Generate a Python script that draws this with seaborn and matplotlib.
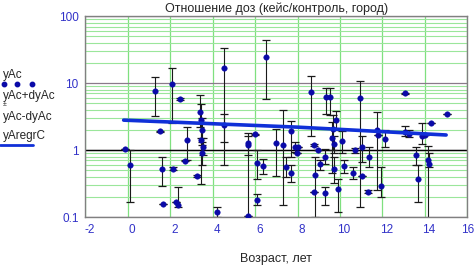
import numpy as np
import matplotlib
matplotlib.use('Agg')
import matplotlib.pyplot as plt
import matplotlib.transforms as mtransforms
from matplotlib.lines import Line2D
import seaborn as sns
import pandas as pd

# age (years), dose ratio and its lower / upper bounds
age = [-0.15, 0.08, 1.29, 1.53, 1.60, 1.66, 2.10, 2.13, 2.35, 2.28, 2.47, 2.69, 2.80, 3.24,
       3.40, 3.45, 3.50, 3.43, 3.52, 3.47, 4.20, 4.52, 4.52, 5.67, 5.64, 5.67, 5.98, 6.09,
       6.35, 6.09, 6.51, 7.00, 7.32, 7.45, 7.70, 7.70, 7.89, 7.97, 8.00, 8.62, 8.77, 8.83,
       8.78, 8.94, 9.05, 9.30, 9.30, 9.36, 9.53, 9.82, 9.68, 9.62, 9.72, 9.72, 9.88, 10.07,
       10.17, 10.61, 10.69, 10.96, 11.05, 11.05, 11.36, 11.30, 11.74, 11.78, 11.94, 12.14,
       13.04, 13.08, 13.25, 13.60, 13.66, 13.88, 14.00, 14.16, 14.20, 14.27, 15.02]
ratio = [1.03, 0.60, 7.7, 1.90, 0.53, 0.155, 9.7, 0.53, 0.15, 0.17, 5.8, 0.69, 1.40, 0.41,
         3.7, 2.8, 2.0, 1.4, 1.12, 0.89, 0.12, 16.6, 2.4, 1.26, 1.18, 0.102, 1.73, 0.65,
         0.58, 0.18, 24.7, 1.28, 1.19, 0.56, 1.9, 0.45, 1.12, 0.91, 1.10, 7.3, 1.19, 0.42,
         0.24, 1.02, 0.61, 0.79, 0.225, 6.25, 6.1, 2.8, 2.1, 1.5, 1.25, 0.53, 0.26, 1.36,
         0.58, 0.46, 1.0, 5.9, 1.12, 0.41, 0.79, 0.24, 2.0, 1.68, 0.29, 1.45,
         7.0, 1.85, 1.75, 0.84, 0.37, 1.62, 1.66, 0.71, 0.62, 2.5, 3.4]
ratio_lo = [1.03, 0.17, 3.2, 1.85, 0.29, 0.155, 2.5, 0.51, 0.14, 0.17, 5.6, 0.68, 0.71, 0.40,
            2.2, 1.5, 1.2, 0.31, 0.85, 0.6, 0.10, 0.6, 1.33, 0.1, 0.85, 0.102, 1.70, 0.37,
            0.44, 0.15, 5.7, 0.41, 0.15, 0.40, 0.79, 0.33, 0.95, 0.91, 1.10, 1.6, 1.15, 0.1,
            0.24, 1.02, 0.50, 0.62, 0.15, 3.5, 3.3, 2.0, 1.0, 0.45, 0.9, 0.32, 0.12, 0.9,
            0.45, 0.37, 0.92, 0.14, 0.67, 0.41, 0.55, 0.23, 0.25, 1.68, 0.20, 1.1,
            6.9, 1.6, 1.55, 0.6, 0.17, 1.25, 1.66, 0.07, 0.55, 2.5, 3.4]
ratio_hi = [1.03, 1.0, 12.4, 1.95, 0.78, 0.155, 16.6, 0.55, 0.28, 0.17, 6.0, 0.71, 2.2, 0.43,
            6.6, 4.8, 3.0, 2.6, 1.5, 1.3, 0.14, 33.0, 3.4, 1.8, 1.6, 0.102, 1.76, 1.0,
            0.73, 0.22, 43.8, 2.1, 4.0, 0.79, 2.7, 0.6, 1.3, 0.91, 1.10, 12.8, 1.23, 0.79,
            0.24, 1.02, 0.70, 1.05, 0.28, 8.6, 8.4, 3.8, 3.3, 2.6, 1.6, 0.8, 0.37, 1.9,
            0.72, 0.55, 1.08, 10.8, 1.6, 0.41, 1.12, 0.25, 3.7, 1.68, 0.55, 1.98,
            7.1, 2.3, 2.0, 1.12, 0.6, 2.5, 1.66, 1.15, 0.9, 2.5, 3.4]

# regression curve yAregrC
regr_age = [-0.2, 8.0, 15.0]
regr_val = [2.8, 2.2, 1.68]

df = pd.DataFrame({'age': age, 'ratio': ratio, 'lo': ratio_lo, 'hi': ratio_hi})
regr = pd.DataFrame({'age': regr_age, 'val': regr_val})

sns.set_style('white')
plt.rcParams['font.family'] = ['Liberation Sans', 'DejaVu Sans']
plt.rcParams['axes.unicode_minus'] = False

blue_txt = '#3232c8'
fig = plt.figure(figsize=(4.76, 2.65), dpi=100)
ax = fig.add_axes([0.1796, 0.181, 0.8022, 0.758])

ax.set_yscale('log')
ax.set_xlim(-2, 16)
ax.set_ylim(0.1, 100)
ax.set_xticks(np.arange(-2, 17, 2))
ax.set_yticks([0.1, 1, 10, 100])
ax.set_yticklabels(['0.1', '1', '10', '100'])

ax.grid(which='minor', axis='y', color='#9be69b', lw=0.8)
ax.grid(which='major', axis='y', color='#8a7a8a', lw=0.9)
ax.grid(which='major', axis='x', color='#7fe07f', lw=0.9)
ax.axhline(1, color='black', lw=1.0, zorder=1)
ax.set_axisbelow(True)

ax.errorbar(df['age'], df['ratio'], yerr=[df['ratio'] - df['lo'], df['hi'] - df['ratio']],
            fmt='none', ecolor='#1a1a1a', elinewidth=0.8, capsize=3, capthick=0.9, zorder=2)
sns.scatterplot(data=df, x='age', y='ratio', ax=ax, color='#0a0aa8', s=16,
                edgecolor='#0a0aa8', linewidth=0.3, zorder=3, legend=False)
sns.lineplot(data=regr, x='age', y='val', ax=ax, color='#1030d8', lw=2.6, zorder=4)

for s in ax.spines.values():
    s.set_color('#808080')
    s.set_linewidth(1.0)
ax.minorticks_on()
ax.xaxis.set_minor_locator(matplotlib.ticker.NullLocator())
ax.yaxis.set_minor_formatter(matplotlib.ticker.NullFormatter())
ax.tick_params(which='both', length=0, labelsize=8.5, labelcolor=blue_txt, pad=5)

# Mathcad puts x labels a little to the right of the grid line (last one kept inside)
shift = mtransforms.ScaledTranslation(4 / 100, 0, fig.dpi_scale_trans)
xlabs = ax.get_xticklabels()
for lab in xlabs[:-1]:
    lab.set_transform(lab.get_transform() + shift)

ax.set_title('Отношение доз (кейс/контроль, город)', fontsize=9, pad=3)
ax.set_xlabel('Возраст, лет', fontsize=9, labelpad=12)
ax.set_ylabel('')

# legend on the left, Mathcad style (label above sample)
fs = 8.5
fig.text(0.006, 0.705, 'yAc', fontsize=fs, va='baseline')
for xx in [0.008, 0.035, 0.067]:
    fig.add_artist(Line2D([xx], [0.683], marker='o', ms=3.2, color='#0a0aa8', lw=0))
fig.text(0.006, 0.625, 'yAc+dyAc', fontsize=fs, va='baseline')
fig.text(0.006, 0.6, '±', fontsize=5, va='baseline')
fig.text(0.006, 0.549, 'yAc-dyAc', fontsize=fs, va='baseline')
fig.text(0.006, 0.474, 'yAregrC', fontsize=fs, va='baseline')
fig.add_artist(Line2D([0.0, 0.07], [0.453, 0.453], color='#1030d8', lw=2.0))

fig.savefig('out.png', dpi=100)
